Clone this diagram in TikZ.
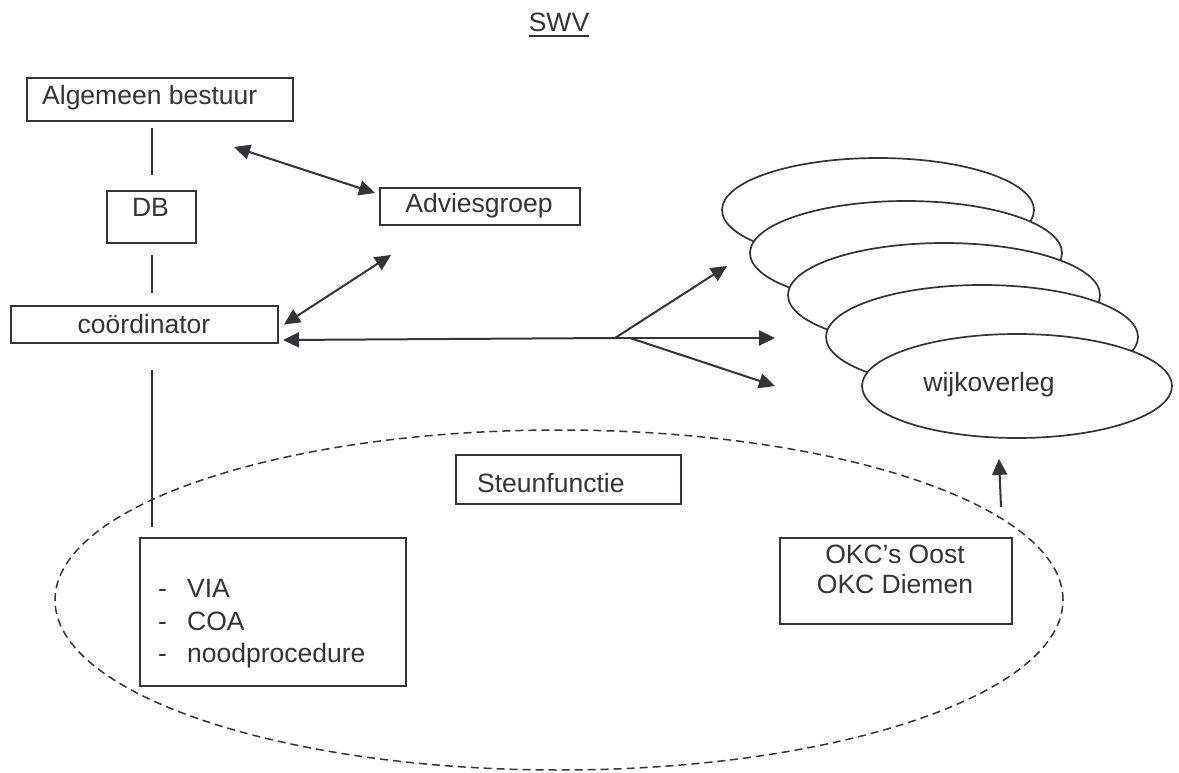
\documentclass[tikz,border=0pt]{standalone}
\usepackage{fontspec}
\setmainfont{Liberation Sans}
\usetikzlibrary{arrows.meta,shapes.geometric,calc}
\definecolor{ink}{RGB}{51,51,56}
\begin{document}
\begin{tikzpicture}[x=1pt,y=-1pt,
  box/.style={draw=ink,line width=2pt,fill=white,inner sep=0pt,anchor=north west},
  oval/.style={ellipse,draw=ink,line width=1.7pt,fill=white,inner sep=0pt,minimum width=312pt,minimum height=104pt},
  txt/.style={inner sep=0pt,text=ink,font=\fontsize{26.5}{32}\selectfont},
  ln/.style={draw=ink,line width=2pt},
  tip/.style={ln,-{Triangle[length=16pt,width=15pt]}},
  tips/.style={ln,{Triangle[length=16pt,width=15pt]}-{Triangle[length=16pt,width=15pt]}}
]
\useasboundingbox (0,0) rectangle (1179,773);

% dashed support ellipse
\node[ellipse,draw=ink,line width=1.5pt,dash pattern=on 8pt off 5pt,inner sep=0pt,
      minimum width=1008pt,minimum height=340pt] (sf) at (559,600) {};

% title
\node[txt,anchor=base] (swv) at (559,32) {SWV};
\draw[ln] ([yshift=-4pt]swv.base west) -- ([yshift=-4pt]swv.base east);

% boxes
\node[box,minimum width=266pt,minimum height=43pt] (ab) at (26,77) {};
\node[txt,anchor=base west] (abt) at (42,105) {Algemeen bestuur};
\node[box,minimum width=89pt,minimum height=52pt] (db) at (106,190) {};
\node[txt,anchor=base] (dbt) at (150.5,217) {DB};
\node[box,minimum width=267pt,minimum height=37pt] (coord) at (10,305) {};
\node[txt,anchor=base] (coordt) at (144,333) {coördinator};
\node[box,minimum width=200pt,minimum height=37pt] (adv) at (379,187) {};
\node[txt,anchor=base] (advt) at (479,213) {Adviesgroep};
\node[box,minimum width=225pt,minimum height=49pt] (steun) at (455,454) {};
\node[txt,anchor=base west] (steunt) at (477,492) {Steunfunctie};
\node[box,minimum width=266pt,minimum height=148pt] (lb) at (139,537) {};
\node[txt,anchor=base west] (l1) at (158,597) {\makebox[29pt][l]{-}VIA};
\node[txt,anchor=base west] (l2) at (158,630) {\makebox[29pt][l]{-}COA};
\node[txt,anchor=base west] (l3) at (158,662) {\makebox[29pt][l]{-}noodprocedure};
\node[box,minimum width=232pt,minimum height=86pt] (okc) at (779,537) {};
\node[txt,anchor=base] (okc1) at (895,563) {OKC’s Oost};
\node[txt,anchor=base] (okc2) at (895,593) {OKC Diemen};

% stacked ellipses
\node[oval] (e1) at (878,210) {};
\node[oval] (e2) at (906,253) {};
\node[oval] (e3) at (944,295) {};
\node[oval] (e4) at (982,337) {};
\node[oval,minimum width=310pt] (e5) at (1017,386) {};
\node[txt,anchor=base] (wt) at (989,391) {wijkoverleg};

% vertical links
\draw[ln,shorten <=6pt,shorten >=15pt] (db.north |- ab.south) -- (db.north);
\draw[ln,shorten <=11pt,shorten >=12pt] (db.south) -- (db.south |- coord.north);
\draw[ln,shorten <=26pt,shorten >=10pt] (db.south |- coord.south) -- (db.south |- lb.north);

% arrows to Adviesgroep
\draw[tips] ($(ab.south east)+(-60,25)$) -- ($(adv.north west)+(-4,6)$);
\draw[tips] ($(coord.east)+(5,0)$) -- ($(adv.south west)+(12,29)$);

% branching arrows
\coordinate (br) at (615,338);
\coordinate (br2) at (630,338);
\coordinate (t1) at (727,266);
\coordinate (t2) at (775,338);
\coordinate (t3) at (775,386);
\draw[tip] (br) -- ($(coord.south east)+(4,-4)$);
\draw[tip] (br) -- (t1);
\draw[tip] (br) -- (t2);
\draw[tip] (br2) -- (t3);

% OKC up arrow
\draw[tip] ($(okc.north east)+(-12,-30)$) -- ($(e5.south)+(-18,20)$);
\end{tikzpicture}
\end{document}
